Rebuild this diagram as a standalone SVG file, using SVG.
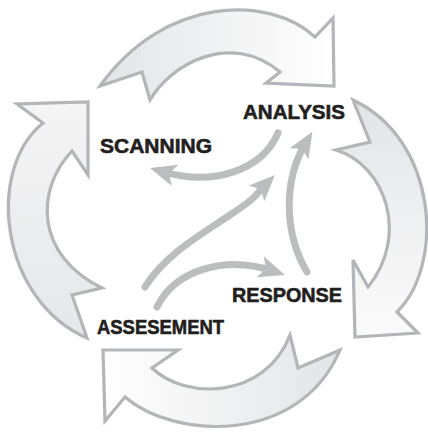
<svg xmlns="http://www.w3.org/2000/svg" width="428" height="433" viewBox="0 0 428 433">
  <style>
    .big { stroke: #b3b5b8; stroke-width: 3.2; stroke-linejoin: miter; }
    .flow { fill: none; stroke: #bbbdbf; stroke-width: 7; stroke-linecap: round; marker-end: url(#head); }
    .label { font-family: "Liberation Sans", Arial, sans-serif; font-weight: bold; font-size: 20.5px; fill: #231f20; stroke: #231f20; stroke-width: 0.6px; }
  </style>
  <defs>
    <linearGradient id="gTop" x1="0" y1="0" x2="1" y2="0">
      <stop offset="0" stop-color="#e3e4e6"/>
      <stop offset="1" stop-color="#ffffff"/>
    </linearGradient>
    <linearGradient id="gRight" x1="0" y1="0" x2="0" y2="1">
      <stop offset="0" stop-color="#e3e4e6"/>
      <stop offset="1" stop-color="#fbfbfb"/>
    </linearGradient>
    <linearGradient id="gBottom" x1="1" y1="0" x2="0" y2="0">
      <stop offset="0" stop-color="#e3e4e6"/>
      <stop offset="1" stop-color="#ffffff"/>
    </linearGradient>
    <linearGradient id="gLeft" x1="0" y1="1" x2="0" y2="0">
      <stop offset="0" stop-color="#e6e7e8"/>
      <stop offset="1" stop-color="#f4f4f5"/>
    </linearGradient>
    <marker id="head" viewBox="0 -12 28 24" markerWidth="28" markerHeight="24" refX="14" refY="0" orient="auto" markerUnits="userSpaceOnUse">
      <path d="M0,-11 L26,0 L0,11 L6,0 Z" fill="#bbbdbf"/>
    </marker>
  </defs>

  <g id="cycle-arrows">
    <g id="arrow-top">
      <path class="big" fill="url(#gTop)" d="M100,86 L142,72 L150,100 C170,65 230,30 280,72 L266,83 L334,86 L333,18 L315,37 C270,-5 165,-5 100,86 Z"/>
    </g>
    <g id="arrow-right">
      <path class="big" fill="url(#gRight)" d="M353,100 L370,142 L336,150 C385,165 410,235 368,287 L353,260 L355,337 L418,333 L397,312 C445,265 438,140 353,100 Z"/>
    </g>
    <g id="arrow-bottom">
      <path class="big" fill="url(#gBottom)" d="M103,350 L178,350 L152,368 C185,400 265,400 290,335 L298,368 L340,350 C300,445 175,440 125,397 L105,421 Z"/>
    </g>
    <g id="arrow-left">
      <path class="big" fill="url(#gLeft)" d="M88,102 L88,175 L72,151 C35,190 35,255 102,288 L72,295 L87,338 C0,300 -15,170 43,123 L17,104 Z"/>
    </g>
  </g>

  <g id="connectors">
    <path class="flow" d="M278,133 C262,170 214,187 161.5,171.4"/>
    <path class="flow" d="M145,287 C165,255 200,235 230,215 S 255,195 266.5,183.5"/>
    <path class="flow" d="M157,307 C175,270 225,255 273.6,271.2"/>
    <path class="flow" d="M307,272 C285,235 282,182 306.2,141.9"/>
  </g>

  <g id="node-analysis"><text class="label" x="243" y="119" textLength="102" lengthAdjust="spacingAndGlyphs">ANALYSIS</text></g>
  <g id="node-scanning"><text class="label" x="100" y="153" textLength="112" lengthAdjust="spacingAndGlyphs">SCANNING</text></g>
  <g id="node-response"><text class="label" x="232" y="302" textLength="110" lengthAdjust="spacingAndGlyphs">RESPONSE</text></g>
  <g id="node-assesement"><text class="label" x="97" y="334" textLength="127" lengthAdjust="spacingAndGlyphs">ASSESEMENT</text></g>
</svg>
